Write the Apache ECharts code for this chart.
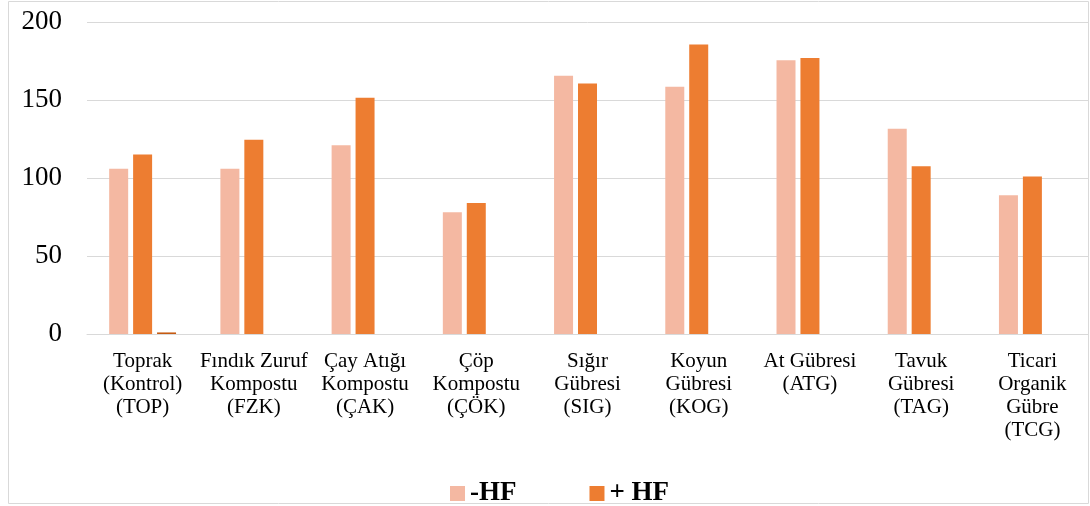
<!DOCTYPE html>
<html>
<head>
<meta charset="utf-8">
<script src="https://cdn.jsdelivr.net/npm/echarts@6/dist/echarts.min.js"></script>
<style>
  html, body { margin: 0; padding: 0; background: #fff; }
  #chart { width: 1090px; height: 506px; }
</style>
</head>
<body>
<div id="chart"></div>
<script>
// categories on the x axis
var categories = [
  'Toprak\n(Kontrol)\n(TOP)',
  'Fındık Zuruf\nKompostu\n(FZK)',
  'Çay Atığı\nKompostu\n(ÇAK)',
  'Çöp\nKompostu\n(ÇÖK)',
  'Sığır\nGübresi\n(SIG)',
  'Koyun\nGübresi\n(KOG)',
  'At Gübresi\n(ATG)',
  'Tavuk\nGübresi\n(TAG)',
  'Ticari\nOrganik\nGübre\n(TCG)'
]

// series values
var minusHF = [106, 106, 121, 78, 165.5, 158.5, 175.5, 131.5, 89]
var plusHF = [115, 124.5, 151.5, 84, 160.5, 185.5, 177, 107.5, 101]
var extra = [1, null, null, null, null, null, null, null, null]

var yTicks = { min: 0, max: 200, interval: 50 }

var serif = '"Liberation Serif", "DejaVu Serif", serif'

var chart = echarts.init(document.getElementById('chart'))

chart.setOption({
  animation: false,
  textStyle: { fontFamily: serif },
  graphic: [
    {
      type: 'rect',
      shape: { x: 8.5, y: 1.5, width: 1080, height: 502 },
      style: { fill: 'none', stroke: '#d9d9d9', lineWidth: 1 },
      silent: true
    }
  ],
  legend: {
    data: ['-HF', '+ HF'],
    left: 445,
    top: 475,
    itemWidth: 15,
    itemHeight: 15,
    itemGap: 73,
    icon: 'rect',
    textStyle: {
      fontFamily: serif,
      fontWeight: 'bold',
      fontSize: 27,
      color: '#000'
    }
  },
  grid: {
    left: 87,
    right: 2,
    top: 22,
    bottom: 172
  },
  xAxis: {
    type: 'category',
    data: categories,
    axisLine: { lineStyle: { color: '#d9d9d9', width: 1 } },
    axisTick: { show: false },
    axisLabel: {
      interval: 0,
      margin: 16,
      fontFamily: serif,
      fontSize: 21,
      lineHeight: 23,
      color: '#000'
    }
  },
  yAxis: {
    type: 'value',
    min: yTicks.min,
    max: yTicks.max,
    interval: yTicks.interval,
    axisLine: { show: false },
    axisTick: { show: false },
    splitLine: { lineStyle: { color: '#d9d9d9', width: 1 } },
    axisLabel: {
      margin: 25,
      fontFamily: serif,
      fontSize: 27,
      color: '#000'
    }
  },
  series: [
    {
      name: '-HF',
      type: 'bar',
      barWidth: 19,
      barGap: '26%',
      itemStyle: { color: '#F4B8A2' },
      data: minusHF
    },
    {
      name: '+ HF',
      type: 'bar',
      barWidth: 19,
      barGap: '26%',
      itemStyle: { color: '#ED7D31' },
      data: plusHF
    },
    {
      name: 'extra',
      type: 'bar',
      barWidth: 19,
      barGap: '26%',
      itemStyle: { color: '#C55A11' },
      data: extra
    }
  ]
})
</script>
</body>
</html>
